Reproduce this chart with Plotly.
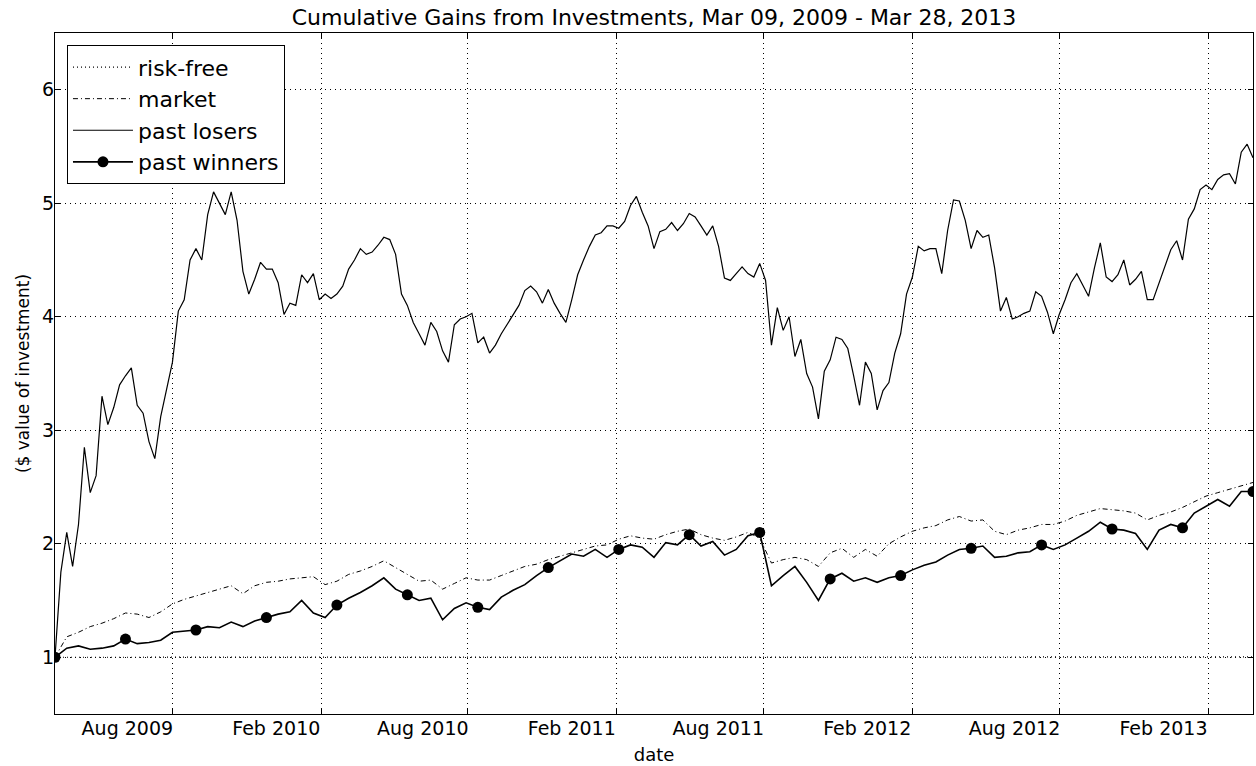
import plotly.graph_objects as go
import pandas as pd

# valeurs (dates régulièrement espacées du 9 mars 2009 au 28 mars 2013)
debut, fin = "2009-03-09", "2013-03-28"

risk_free = [1.0, 1.001, 1.002, 1.002, 1.003]

past_losers = [
    1.0, 1.75, 2.1, 1.8, 2.17, 2.85, 2.45, 2.6, 3.3, 3.05,
    3.2, 3.4, 3.48, 3.55, 3.22, 3.15, 2.9, 2.75, 3.12, 3.37,
    3.6, 4.05, 4.15, 4.5, 4.6, 4.5, 4.9, 5.1, 5.0, 4.9,
    5.1, 4.85, 4.4, 4.2, 4.33, 4.48, 4.42, 4.42, 4.3, 4.02,
    4.12, 4.1, 4.37, 4.3, 4.38, 4.15, 4.2, 4.16, 4.2, 4.27,
    4.42, 4.5, 4.6,
    4.55, 4.57, 4.63, 4.7, 4.68, 4.55, 4.2, 4.1, 3.95, 3.85,
    3.75, 3.95, 3.87, 3.7, 3.6, 3.93, 3.98, 4.0, 4.03, 3.77,
    3.82, 3.68, 3.75, 3.85, 3.93, 4.02, 4.1, 4.23, 4.27, 4.22,
    4.12, 4.24, 4.12, 4.03, 3.95, 4.15, 4.37, 4.5, 4.62, 4.72,
    4.74, 4.8, 4.8, 4.78, 4.84, 4.98, 5.06, 4.92, 4.8, 4.6,
    4.75,
    4.77, 4.83, 4.76, 4.82, 4.91, 4.88, 4.8, 4.72, 4.8, 4.62,
    4.34, 4.32, 4.38, 4.44, 4.38, 4.35, 4.47, 4.32, 3.75, 4.08,
    3.88, 4.0, 3.65, 3.8, 3.5, 3.38, 3.1, 3.52, 3.62, 3.82,
    3.8, 3.72, 3.48, 3.22, 3.6, 3.5, 3.18, 3.35, 3.42, 3.68,
    3.85, 4.2, 4.35, 4.62, 4.58, 4.6, 4.6, 4.38, 4.76, 5.03,
    5.02,
    4.85, 4.6, 4.76, 4.7, 4.72, 4.43, 4.05, 4.17, 3.98, 4.0,
    4.03, 4.05, 4.22, 4.18, 4.04, 3.85, 4.02, 4.15, 4.3, 4.38,
    4.28, 4.18, 4.43, 4.65, 4.35, 4.31, 4.37, 4.5, 4.28, 4.33,
    4.4, 4.15, 4.15, 4.3, 4.45, 4.59, 4.67, 4.5, 4.86, 4.95,
    5.12, 5.16, 5.12, 5.21, 5.25, 5.26, 5.17, 5.45, 5.52, 5.4,
]

past_winners = [
    1.0, 1.08, 1.1, 1.07, 1.08, 1.1, 1.16, 1.12, 1.13, 1.15,
    1.22, 1.23, 1.24, 1.27, 1.26, 1.31, 1.27, 1.32, 1.35, 1.38,
    1.4, 1.5, 1.39, 1.35, 1.46, 1.52, 1.57, 1.63, 1.7, 1.6,
    1.55, 1.5, 1.52, 1.33, 1.43, 1.48, 1.44, 1.42, 1.53, 1.59,
    1.64, 1.72, 1.79, 1.85, 1.91, 1.89, 1.95, 1.88, 1.95, 1.99,
    1.97, 1.88, 2.01, 1.99, 2.08,
    1.98, 2.02, 1.9, 1.95, 2.07, 2.1, 1.63, 1.72, 1.8, 1.66,
    1.5, 1.69, 1.74, 1.67, 1.7, 1.66, 1.7, 1.72, 1.77, 1.81,
    1.84, 1.9, 1.95, 1.96, 1.98, 1.88, 1.89, 1.92, 1.93, 1.99,
    1.95, 1.99, 2.05, 2.11, 2.19, 2.13, 2.12, 2.09, 1.95, 2.12,
    2.17, 2.14, 2.27, 2.33, 2.39, 2.33, 2.46, 2.46,
]

market = [
    1.0, 1.18, 1.22, 1.27, 1.3, 1.34, 1.39, 1.38, 1.35, 1.4,
    1.47, 1.51, 1.54, 1.57, 1.6, 1.63, 1.56, 1.63, 1.66, 1.67,
    1.69, 1.7, 1.71, 1.64, 1.67, 1.73, 1.76, 1.8, 1.85, 1.79,
    1.73, 1.67, 1.68, 1.6, 1.65, 1.7, 1.68, 1.68, 1.72, 1.76,
    1.8, 1.82, 1.86, 1.89, 1.92, 1.95, 1.98, 1.99, 2.04, 2.07,
    2.05, 2.04, 2.08, 2.11, 2.13,
    2.08, 2.05, 2.03, 2.06, 2.1, 2.05, 1.83, 1.86, 1.88, 1.86,
    1.8, 1.92, 1.96, 1.88, 1.95, 1.89, 2.0, 2.06, 2.11, 2.14,
    2.16, 2.21, 2.24, 2.2, 2.21, 2.11, 2.08, 2.12, 2.14, 2.17,
    2.17, 2.2, 2.25, 2.28, 2.31, 2.3, 2.29, 2.27, 2.21, 2.25,
    2.28, 2.32, 2.37, 2.42, 2.45, 2.48, 2.51, 2.54,
]

marque_tous = 6  # un marqueur tous les 6 points


def dates(valeurs):
    """Dates régulières couvrant la période"""
    return pd.date_range(debut, fin, periods=len(valeurs))


fig = go.Figure()

fig.add_trace(go.Scatter(
    x=dates(risk_free), y=risk_free, mode="lines", name="risk-free",
    line=dict(color="black", width=1.2, dash="1px,3px"),
))
fig.add_trace(go.Scatter(
    x=dates(market), y=market, mode="lines", name="market",
    line=dict(color="black", width=1, dash="5px,3px,1px,3px"),
))
fig.add_trace(go.Scatter(
    x=dates(past_losers), y=past_losers, mode="lines", name="past losers",
    line=dict(color="black", width=1.2),
))
# couleurs des marqueurs : noir tous les 6 points, transparent sinon
couleurs = ["black" if i % marque_tous == 0 else "rgba(0,0,0,0)"
            for i in range(len(past_winners))]
fig.add_trace(go.Scatter(
    x=dates(past_winners), y=past_winners, mode="lines+markers", name="past winners",
    line=dict(color="black", width=1.6),
    marker=dict(size=11, color=couleurs, line=dict(width=0)),
))

police = "DejaVu Sans, Verdana, sans-serif"
fig.update_layout(
    width=1256,
    height=766,
    margin=dict(l=55, r=3, t=33, b=52),
    paper_bgcolor="white",
    plot_bgcolor="white",
    font=dict(family=police, size=19, color="black"),
    title=dict(
        text="Cumulative Gains from Investments, Mar 09, 2009 - Mar 28, 2013",
        x=0.5, xref="paper", xanchor="center", y=0.977, yanchor="middle",
        font=dict(size=22),
    ),
    showlegend=True,
    legend=dict(
        x=0.01, y=0.982, xanchor="left", yanchor="top",
        bgcolor="white", bordercolor="black", borderwidth=1,
        font=dict(size=22),
        itemwidth=60,
        tracegroupgap=0,
    ),
)
fig.update_xaxes(
    range=[debut, fin], automargin=False,
    tick0="2009-08-01", dtick="M6", tickformat="%b %Y",
    ticklabelshift=-45, ticklabelstandoff=-3,
    title=dict(text="date", font=dict(size=18), standoff=10),
    showline=True, linecolor="black", linewidth=1, mirror="ticks",
    ticks="inside", ticklen=5, tickcolor="black",
    showgrid=True, gridcolor="black", gridwidth=1, griddash="1px,4px",
    zeroline=False,
)
fig.update_yaxes(
    range=[0.5, 6.5], dtick=1, tick0=1, automargin=False,
    ticklabelstandoff=-4,
    title=dict(text="($ value of investment)", font=dict(size=17), standoff=8),
    showline=True, linecolor="black", linewidth=1, mirror="ticks",
    ticks="inside", ticklen=5, tickcolor="black",
    showgrid=True, gridcolor="black", gridwidth=1, griddash="1px,4px",
    zeroline=False,
)

# page sans marge pour que la figure occupe toute la fenêtre, sans barre d'outils
fig.write_html(
    "out.html",
    config={"displayModeBar": False},
    post_script="document.body.style.margin = '0';",
)
